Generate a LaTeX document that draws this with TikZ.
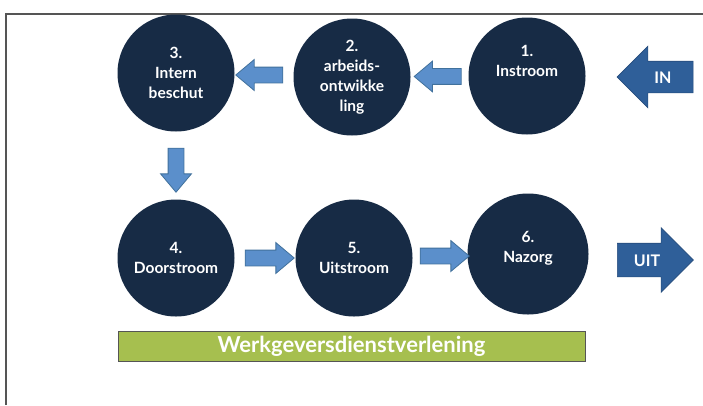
\documentclass[tikz,border=0pt]{standalone}
\usepackage{fontspec}
\setmainfont{Lato}
\usetikzlibrary{shapes.arrows, positioning}

\definecolor{navy}{HTML}{172B45}
\definecolor{pijlblauw}{HTML}{5B8FCB}
\definecolor{pijlrand}{HTML}{41719C}
\definecolor{donkerblauw}{HTML}{2F5F99}
\definecolor{donkerrand}{HTML}{264C7C}
\definecolor{balkgroen}{HTML}{A6BF4F}
\definecolor{kader}{HTML}{555555}

\begin{document}
\begin{tikzpicture}[x=1pt, y=-1pt,
    fase/.style={circle, fill=navy, minimum size=117pt, inner sep=0pt,
      text=white, align=center, font=\bfseries\fontsize{15.5}{20}\selectfont},
    fasetekst/.style={text=white, align=center, font=\bfseries\fontsize{15.5}{20}\selectfont},
    pijl/.style={single arrow, fill=pijlblauw, draw=pijlrand, line width=0.8pt,
      minimum height=47pt, inner xsep=0pt, inner ysep=7.5pt,
      single arrow head extend=7.5pt, single arrow tip angle=80},
    grotepijl/.style={single arrow, fill=donkerblauw, draw=donkerrand, line width=0.6pt,
      minimum height=76pt, inner xsep=0pt, inner ysep=9.5pt,
      text height=12pt, text depth=0pt,
      single arrow head extend=15pt, single arrow tip angle=90,
      text=white, font=\bfseries\fontsize{16}{20}\selectfont},
    balk/.style={draw=kader, line width=0.8pt, fill=balkgroen, minimum width=467pt,
      minimum height=30pt, text=white, font=\bfseries\fontsize{22}{22}\selectfont}]

    % Canvas and frame
    \useasboundingbox[fill=white] (0,0) rectangle (703,405);
    \draw[kader, line width=1.2pt] (6,405) -- (6,14) -- (703,14);

    % Phases, top row
    \node[fase, label={[fasetekst, yshift=15pt]center:{1.\\Instroom}}] (c1) at (527,76) {};
    \node[fase] (c2) at (352,77) {2.\\arbeids-\\ontwikke\\ling};
    \node[fase] (c3) at (176,73) {3.\\Intern\\beschut};

    % Phases, bottom row
    \node[fase] (c4) at (176,258) {4.\\Doorstroom};
    \node[fase] (c5) at (354,258) {5.\\Uitstroom};
    \node[fase, minimum size=121pt, label={[fasetekst, yshift=6pt]center:{6.\\Nazorg}}] (c6) at (528,254) {};

    % In and out
    \node[grotepijl, shape border rotate=180] (in) at (663,77) {IN};
    \node[grotepijl, inner ysep=10.5pt, single arrow head extend=15.5pt] (uit) at (647,260) {UIT};

    % Arrows between the phases
    \path (c1) -- node[pijl, shape border rotate=180, pos=0.45] (p12) {} (c2);
    \path (c2) -- node[pijl, shape border rotate=180] (p23) {} (c3);
    \path (c3) -- node[pijl, shape border rotate=270, minimum height=44pt,
      inner xsep=7.5pt, inner ysep=0pt] (p34) {} (c4);
    \path (c4) -- node[pijl, minimum height=49pt] (p45) {} (c5);
    \path (c5) -- node[pijl, minimum height=49pt] (p56) {} (c6);

    % Employer services
    \node[balk] (wdv) at (351.5,346) {Werkgeversdienstverlening};
\end{tikzpicture}
\end{document}
